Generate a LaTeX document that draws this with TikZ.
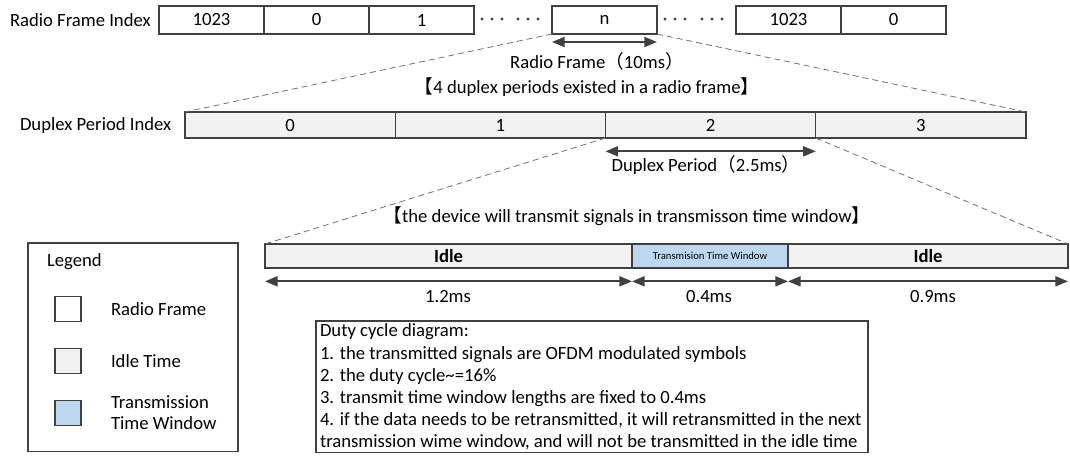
\documentclass[tikz,border=0pt]{standalone}
\usepackage{fontspec}
\setmainfont{Carlito}
\newfontfamily\cjk{Noto Sans CJK SC}
\usetikzlibrary{arrows.meta}
\definecolor{boxc}{HTML}{404040}
\definecolor{idlec}{HTML}{F2F2F2}
\definecolor{ttwc}{HTML}{BDD7EE}
\definecolor{dashc}{HTML}{707070}
\begin{document}
\begin{tikzpicture}[x=0.75pt,y=-0.75pt,
  every node/.style={font=\fontsize{14}{16}\selectfont, inner sep=0pt, outer sep=0pt},
  cellbox/.style={draw=boxc, line width=1.1pt, anchor=north west, minimum height=21pt},
  rfcell/.style={cellbox, fill=white, minimum width=78.75pt},
  dpcell/.style={cellbox, fill=idlec, minimum width=157.7pt, minimum height=19.5pt},
  barcell/.style={cellbox, minimum height=18pt},
  legsq/.style={draw=boxc, line width=1.1pt, minimum width=19.5pt, minimum height=19pt},
  zoomline/.style={dashc, dash pattern=on 4.5pt off 3pt, line width=0.6pt},
  dimarrow/.style={boxc, line width=1.6pt, {Triangle[length=9.5pt,width=7.5pt]}-{Triangle[length=9.5pt,width=7.5pt]}},
  dotmark/.style={circle, fill=boxc, minimum size=2.4pt},
  lbl/.style={anchor=west}
]
\useasboundingbox (0,0) rectangle (1070,455);

% Row 1: radio frames
\node[lbl] (rfi) at (10,20) {Radio Frame Index};
\node[rfcell] (a1) at (159,6) {1023};
\node[rfcell] (a2) at (264,6) {0};
\node[rfcell] (a3) at (369,6) {1};
\foreach \x [count=\i] in {482,492,502,518,528,538}
  \node[dotmark] (da\i) at (\x,19) {};
\node[rfcell] (an) at (552,6) {n};
\foreach \x [count=\i] in {665,675,685,702,712,722}
  \node[dotmark] (db\i) at (\x,19) {};
\node[rfcell] (a4) at (736,6) {1023};
\node[rfcell] (a5) at (841,6) {0};

\coordinate (nl) at ([yshift=-6pt]an.south west);
\coordinate (nr) at ([yshift=-6pt]an.south east);
\draw[dimarrow] (nl) -- (nr);
\node (rft) at (597,61) {Radio Frame{\cjk （}10ms{\cjk ）}};
\node (t1) at (587,87) {{\cjk 【}4 duplex periods existed in a radio frame{\cjk 】}};

% Row 2: duplex periods
\node[lbl] (dpi) at (20,126) {Duplex Period Index};
\node[dpcell] (b0) at (185,112) {0};
\node[dpcell] (b1) at (395.25,112) {1};
\node[dpcell] (b2) at (605.5,112) {2};
\node[dpcell] (b3) at (815.75,112) {3};

\draw[zoomline] (an.south west) -- (b0.north west);
\draw[zoomline] (an.south east) -- (b3.north east);

\coordinate (pl) at ([yshift=-10pt]b2.south west);
\coordinate (pr) at ([yshift=-10pt]b2.south east);
\draw[dimarrow] (pl) -- (pr);
\node (dpt) at (706,165) {Duplex Period{\cjk （}2.5ms{\cjk ）}};
\node (t2) at (627,216) {{\cjk 【}the device will transmit signals in transmisson time window{\cjk 】}};

% Row 3: idle / transmission
\node[barcell, fill=idlec, minimum width=275.25pt, font=\fontsize{14}{16}\selectfont\bfseries] (c1) at (265,244) {Idle};
\node[barcell, fill=ttwc, minimum width=117pt, font=\fontsize{8}{9}\selectfont] (c2) at (632,244) {Transmision Time Window};
\node[barcell, fill=idlec, minimum width=210pt, font=\fontsize{14}{16}\selectfont\bfseries] (c3) at (788,244) {Idle};

\draw[zoomline] (b2.south west) -- (c1.north west);
\draw[zoomline] (b2.south east) -- (c3.north east);

\coordinate (e0) at ([yshift=-10pt]c1.south west);
\coordinate (e1) at ([yshift=-10pt]c1.south east);
\coordinate (e2) at ([yshift=-10pt]c2.south east);
\coordinate (e3) at ([yshift=-10pt]c3.south east);
\draw[dimarrow] (e0) -- (e1);
\draw[dimarrow] (e1) -- (e2);
\draw[dimarrow] (e2) -- (e3);
\node (m1) at (448,297) {1.2ms};
\node (m2) at (709,297) {0.4ms};
\node (m3) at (933,297) {0.9ms};

% Legend
\node[draw=boxc, line width=1.1pt, anchor=north west, minimum width=157.5pt, minimum height=156.5pt] (leg) at (28,243) {};
\node[lbl] (legt) at (47,262) {Legend};
\node[legsq, fill=white] (s1) at (68,309) {};
\node[legsq, fill=idlec] (s2) at (68,361) {};
\node[legsq, fill=ttwc] (s3) at (68,413) {};
\node[lbl] (l1) at (111,309) {Radio Frame};
\node[lbl] (l2) at (111,361) {Idle Time};
\node[lbl, align=left, font=\fontsize{14}{15.75}\selectfont] (l3) at (111,413) {Transmission\\Time Window};

% Notes box
\node[draw=boxc, line width=0.9pt, anchor=north west, minimum width=414pt, minimum height=98.5pt] (note) at (316,321) {};
\node[anchor=north west, align=left, font=\fontsize{14}{16.6}\selectfont] (notet) at (320,324) {Duty cycle diagram:\\
1. the transmitted signals are OFDM modulated symbols\\
2. the duty cycle\~{}=16\%\\
3. transmit time window lengths are fixed to 0.4ms\\
4. if the data needs to be retransmitted, it will retransmitted in the next\\
transmission wime window, and will not be transmitted in the idle time};
\end{tikzpicture}
\end{document}
